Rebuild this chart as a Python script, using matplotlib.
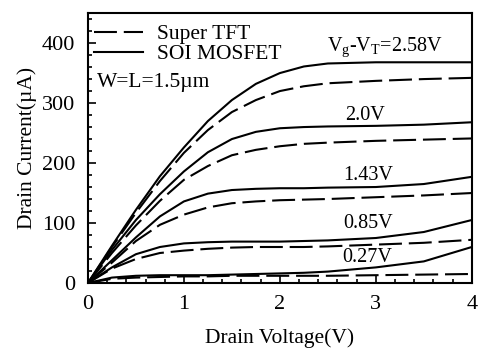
import matplotlib
matplotlib.use("Agg")
import matplotlib.pyplot as plt
from matplotlib.ticker import MultipleLocator

plt.rcParams['font.family'] = ['Liberation Serif', 'DejaVu Serif']
plt.rcParams['mathtext.fontset'] = 'custom'
plt.rcParams['mathtext.rm'] = 'Liberation Serif'
plt.rcParams['mathtext.it'] = 'Liberation Serif:italic'

# drain voltage (V)
vd = [0, 0.25, 0.5, 0.75, 1.0, 1.25, 1.5, 1.75, 2.0, 2.25, 2.5, 3.0, 3.5, 4.0]

# SOI MOSFET (solid), drain current in uA
soi_258 = [0, 62, 122, 178, 226, 270, 305, 332, 350, 361, 366, 368, 368, 368]
soi_200 = [0, 55, 105, 148, 186, 218, 240, 252, 258, 260, 261, 262, 264, 268]
soi_143 = [0, 38, 76, 111, 136, 149, 155, 157, 158, 158, 159, 160, 165, 177]
soi_085 = [0, 26, 48, 60, 66, 68, 69, 69, 69, 70, 71, 75, 85, 105]
soi_027 = [0, 9, 12, 13, 13, 13, 14, 15, 16, 17, 19, 26, 36, 60]

# Super TFT (dashed)
tft_258 = [0, 60, 117, 170, 217, 255, 285, 305, 320, 328, 333, 337, 340, 342]
tft_200 = [0, 50, 96, 137, 172, 195, 213, 222, 228, 232, 234, 237, 239, 241]
tft_143 = [0, 34, 70, 97, 114, 126, 133, 136, 138, 139, 140, 143, 146, 150]
tft_085 = [0, 24, 40, 50, 54, 57, 59, 60, 60, 60, 61, 64, 67, 72]
tft_027 = [0, 7, 9, 10, 11, 11, 12, 12, 12, 12, 12, 13, 14, 15]

labels = [r'V$_\mathrm{g}$-V$_\mathrm{T}$=2.58V', '2.0V', '1.43V', '0.85V', '0.27V']
label_x = [3.09, 2.89, 2.92, 2.92, 2.91]
label_y = [393, 280, 180, 100, 42]

fig = plt.figure(figsize=(4.78, 3.54), dpi=100)
ax = fig.add_axes([0.184, 0.2006, 0.803, 0.7624])

soi = [soi_258, soi_200, soi_143, soi_085, soi_027]
tft = [tft_258, tft_200, tft_143, tft_085, tft_027]
for i in range(len(soi)):
    ax.plot(vd, tft[i], color='black', lw=1.5, linestyle=(0, (11, 3.3)),
            label='Super TFT' if i == 0 else None)
    ax.plot(vd, soi[i], color='black', lw=1.5,
            label='SOI MOSFET' if i == 0 else None)
    ax.text(label_x[i], label_y[i], labels[i], fontsize=14.5, ha='center', va='center')

ax.text(0.09, 335, 'W=L=1.5\u00b5m', fontsize=15.5, ha='left', va='center')

ax.legend(loc='upper left', bbox_to_anchor=(0.0, 0.983), frameon=False, fontsize=15.5,
          handlelength=2.25, borderaxespad=0.1, borderpad=0.2, labelspacing=0.0,
          handletextpad=0.65)

ax.set_xlim(0, 4)
ax.set_ylim(0, 450)
ax.xaxis.set_major_locator(MultipleLocator(1))
ax.xaxis.set_minor_locator(MultipleLocator(0.2))
ax.yaxis.set_major_locator(MultipleLocator(100))
ax.yaxis.set_minor_locator(MultipleLocator(20))
ax.tick_params(which='both', direction='in', top=False, right=False, labelsize=16, width=1.2)
ax.tick_params(which='major', length=6, pad=9)
ax.tick_params(which='minor', length=3)
for s in ax.spines.values():
    s.set_linewidth(1.5)

ax.set_xlabel('Drain Voltage(V)', fontsize=15.5, labelpad=10)
ax.set_ylabel('Drain Current(\u00b5A)', fontsize=15.5, labelpad=4)

fig.savefig('out.png', dpi=100)
